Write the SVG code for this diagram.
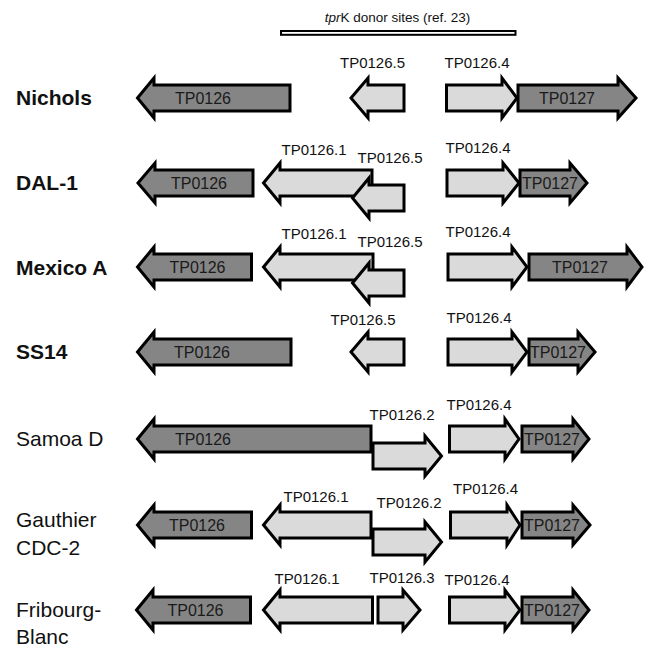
<svg xmlns="http://www.w3.org/2000/svg" width="645" height="651" viewBox="0 0 645 651">
<style>
.dk{fill:#858585;stroke:#000;stroke-width:3;stroke-linejoin:miter;stroke-miterlimit:6}
.lt{fill:#dadada;stroke:#000;stroke-width:3;stroke-linejoin:miter;stroke-miterlimit:6}
.gl{font-family:"Liberation Sans",Arial,sans-serif;font-size:15px;fill:#111;text-anchor:middle}
.il{font-family:"Liberation Sans",Arial,sans-serif;font-size:16px;fill:#1a1a1a;text-anchor:middle}
.sb{font-family:"Liberation Sans",Arial,sans-serif;font-size:21px;font-weight:bold;fill:#111}
.sr{font-family:"Liberation Sans",Arial,sans-serif;font-size:21px;fill:#111}
.tt{font-family:"Liberation Sans",Arial,sans-serif;font-size:13.5px;fill:#111;text-anchor:middle}
</style>
<rect width="645" height="651" fill="#fff"/>
<g id="donor-sites">
<text class="tt" x="397.5" y="22"><tspan font-style="italic">tpr</tspan>K donor sites (ref. 23)</text>
<rect x="281" y="31" width="234.5" height="3.8" fill="#fff" stroke="#000" stroke-width="2"/>
</g>
<g id="strain-labels">
<text class="sb" x="16" y="105">Nichols</text>
<text class="sb" x="16" y="190">DAL-1</text>
<text class="sb" x="16" y="275">Mexico A</text>
<text class="sb" x="16" y="359">SS14</text>
<text class="sr" x="16" y="446">Samoa D</text>
<text class="sr" x="16" y="527">Gauthier</text>
<text class="sr" x="16" y="555">CDC-2</text>
<text class="sr" x="16" y="617">Fribourg-</text>
<text class="sr" x="16" y="644">Blanc</text>
</g>
<g id="connectors"></g>
<!-- Nichols -->
<g id="nichols-TP0126"><polygon class="dk" points="137.5,98 154,78 154,85 290,85 290,111 154,111 154,118"/><text class="il" x="203" y="104">TP0126</text></g>
<g id="nichols-TP0126.5"><polygon class="lt" points="351,98 368,78 368,85 404,85 404,111 368,111 368,118"/><text class="gl" x="372.5" y="68">TP0126.5</text></g>
<g id="nichols-TP0126.4"><polygon class="lt" points="446.5,85 502,85 502,78 517,98 502,118 502,111 446.5,111"/><text class="gl" x="477" y="68">TP0126.4</text></g>
<g id="nichols-TP0127"><polygon class="dk" points="518,85 618,85 618,78 636,98 618,118 618,111 518,111"/><text class="il" x="567" y="104">TP0127</text></g>
<!-- DAL-1 -->
<g id="dal1-TP0126"><polygon class="dk" points="138,183 155,163 155,170 253,170 253,196 155,196 155,203"/><text class="il" x="199" y="189">TP0126</text></g>
<g id="dal1-TP0126.1"><polygon class="lt" points="263.5,183 280,163 280,170 372,170 372,196 280,196 280,203"/><text class="gl" x="314" y="155">TP0126.1</text></g>
<g id="dal1-TP0126.5"><polygon class="lt" points="352.5,198 369,178 369,185 404,185 404,211 369,211 369,218"/><text class="gl" x="390" y="163">TP0126.5</text></g>
<g id="dal1-TP0126.4"><polygon class="lt" points="447,170 503,170 503,163 519,183 503,203 503,196 447,196"/><text class="gl" x="478" y="153">TP0126.4</text></g>
<g id="dal1-TP0127"><polygon class="dk" points="520,170 570,170 570,163 587,183 570,203 570,196 520,196"/><text class="il" x="550" y="189">TP0127</text></g>
<!-- Mexico A -->
<g id="mexico-TP0126"><polygon class="dk" points="137.5,267 154,247 154,254 251.5,254 251.5,280 154,280 154,287"/><text class="il" x="197.5" y="273">TP0126</text></g>
<g id="mexico-TP0126.1"><polygon class="lt" points="263.5,267 280,247 280,254 373,254 373,280 280,280 280,287"/><text class="gl" x="314" y="239">TP0126.1</text></g>
<g id="mexico-TP0126.5"><polygon class="lt" points="352.5,283 369,263 369,270 404,270 404,296 369,296 369,303"/><text class="gl" x="390" y="247">TP0126.5</text></g>
<g id="mexico-TP0126.4"><polygon class="lt" points="448,254 512,254 512,247 527,267 512,287 512,280 448,280"/><text class="gl" x="478" y="237">TP0126.4</text></g>
<g id="mexico-TP0127"><polygon class="dk" points="529,254 627,254 627,247 642,267 627,287 627,280 529,280"/><text class="il" x="580" y="273">TP0127</text></g>
<!-- SS14 -->
<g id="ss14-TP0126"><polygon class="dk" points="137.5,352 154,332 154,339 291,339 291,365 154,365 154,372"/><text class="il" x="202" y="358">TP0126</text></g>
<g id="ss14-TP0126.5"><polygon class="lt" points="351,352 368,332 368,339 404,339 404,365 368,365 368,372"/><text class="gl" x="363" y="325">TP0126.5</text></g>
<g id="ss14-TP0126.4"><polygon class="lt" points="448,339 512,339 512,332 527,352 512,372 512,365 448,365"/><text class="gl" x="479" y="323">TP0126.4</text></g>
<g id="ss14-TP0127"><polygon class="dk" points="529,339 578,339 578,332 595,352 578,372 578,365 529,365"/><text class="il" x="558" y="358">TP0127</text></g>
<!-- Samoa D -->
<g id="samoa-TP0126"><polygon class="dk" points="137.5,439 154,419 154,426 371,426 371,452 154,452 154,459"/><text class="il" x="203" y="445">TP0126</text></g>
<g id="samoa-TP0126.2"><polygon class="lt" points="373,443 425,443 425,436 441.5,456 425,476 425,469 373,469"/><text class="gl" x="402" y="420">TP0126.2</text></g>
<g id="samoa-TP0126.4"><polygon class="lt" points="449.5,426 505,426 505,419 519,439 505,459 505,452 449.5,452"/><text class="gl" x="479" y="410">TP0126.4</text></g>
<g id="samoa-TP0127"><polygon class="dk" points="522,426 573,426 573,419 589,439 573,459 573,452 522,452"/><text class="il" x="552" y="445">TP0127</text></g>
<!-- Gauthier CDC-2 -->
<g id="gauthier-TP0126"><polygon class="dk" points="137.5,525 154,505 154,512 251.5,512 251.5,538 154,538 154,545"/><text class="il" x="197" y="531">TP0126</text></g>
<g id="gauthier-TP0126.1"><polygon class="lt" points="263.5,525 280,505 280,512 371,512 371,538 280,538 280,545"/><text class="gl" x="316" y="502">TP0126.1</text></g>
<g id="gauthier-TP0126.2"><polygon class="lt" points="373,529 425,529 425,522 441.5,542 425,562 425,555 373,555"/><text class="gl" x="409" y="508">TP0126.2</text></g>
<g id="gauthier-TP0126.4"><polygon class="lt" points="450.5,512 507,512 507,505 520,525 507,545 507,538 450.5,538"/><text class="gl" x="485.5" y="494">TP0126.4</text></g>
<g id="gauthier-TP0127"><polygon class="dk" points="522,512 573,512 573,505 590,525 573,545 573,538 522,538"/><text class="il" x="552" y="531">TP0127</text></g>
<!-- Fribourg-Blanc -->
<g id="fribourg-TP0126"><polygon class="dk" points="136.5,610 153,590 153,597 250.5,597 250.5,623 153,623 153,630"/><text class="il" x="195.5" y="616">TP0126</text></g>
<g id="fribourg-TP0126.1"><polygon class="lt" points="263.5,610 280,590 280,597 372.5,597 372.5,623 280,623 280,630"/><text class="gl" x="307" y="584">TP0126.1</text></g>
<g id="fribourg-TP0126.3"><polygon class="lt" points="378,597 403,597 403,590 420,610 403,630 403,623 378,623"/><text class="gl" x="402" y="583">TP0126.3</text></g>
<g id="fribourg-TP0126.4"><polygon class="lt" points="449.5,597 505,597 505,590 520,610 505,630 505,623 449.5,623"/><text class="gl" x="477" y="585">TP0126.4</text></g>
<g id="fribourg-TP0127"><polygon class="dk" points="522,597 573,597 573,590 589,610 573,630 573,623 522,623"/><text class="il" x="552" y="616">TP0127</text></g>
</svg>
